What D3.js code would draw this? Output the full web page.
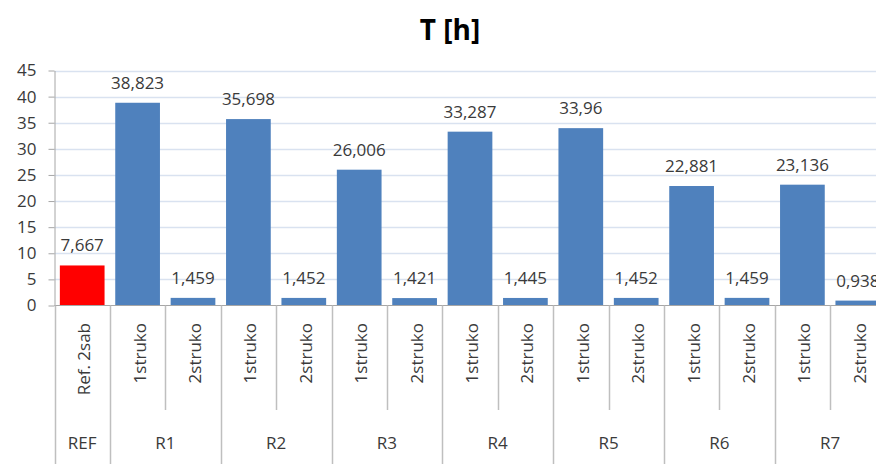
<!DOCTYPE html>
<html>
<head>
<meta charset="utf-8">
<script src="https://cdn.jsdelivr.net/npm/d3@7"></script>
<style>
  body { margin: 0; background: #fff; }
  svg { display: block; overflow: hidden; }
  text { font-family: "Open Sans", sans-serif; fill: #3a3a3a; }
</style>
</head>
<body>
<div id="chart"></div>
<script>
var w = 876,
    h = 464;

// data
var categories = ["Ref. 2sab", "1struko", "2struko", "1struko", "2struko", "1struko", "2struko",
                  "1struko", "2struko", "1struko", "2struko", "1struko", "2struko", "1struko", "2struko"];
var groups = ["REF", "R1", "R2", "R3", "R4", "R5", "R6", "R7"];
var groupSizes = [1, 2, 2, 2, 2, 2, 2, 2];
var values = [7.667, 38.823, 1.459, 35.698, 1.452, 26.006, 1.421, 33.287, 1.445, 33.96, 1.452, 22.881, 1.459, 23.136, 0.938];
var yTicks = [0, 5, 10, 15, 20, 25, 30, 35, 40, 45];

var left = 54.5, step = 55.4;
var y0 = 305.5, y45 = 70.5;
var fs = "17px";

var svg = d3.select("#chart")
    .append("svg")
    .attr("width", w)
    .attr("height", h);

var x = d3.scaleBand()
    .domain(d3.range(values.length))
    .range([left, left + step * values.length])
    .paddingInner(0.193)
    .paddingOuter(0.0965);

var y = d3.scaleLinear()
    .domain([0, 45])
    .range([y0, y45]);

// title
svg.append("text")
   .attr("x", 450)
   .attr("y", 40)
   .attr("text-anchor", "middle")
   .style("font-size", "28px")
   .style("font-weight", "bold")
   .style("fill", "#000")
   .text("T [h]");

// gridlines
svg.append("g")
   .selectAll("line")
   .data(yTicks.slice(1))
   .enter()
   .append("line")
   .attr("x1", left)
   .attr("x2", w)
   .attr("y1", function(d) { return Math.round(y(d)) + 0.5; })
   .attr("y2", function(d) { return Math.round(y(d)) + 0.5; })
   .attr("stroke", "#d9e2f0")
   .attr("stroke-width", 1.5);

// y axis
var yAxis = d3.axisLeft(y)
    .tickValues(yTicks)
    .tickSize(6)
    .tickPadding(12)
    .tickSizeOuter(0);

var gy = svg.append("g")
    .attr("transform", "translate(" + left + ",0)")
    .call(yAxis);
gy.selectAll("line, path").attr("stroke", "#a6a6a6");
gy.selectAll("text")
  .style("font-size", fs)
  .style("font-family", "\"Open Sans\", sans-serif")
  .style("fill", "#3a3a3a");

// bars
svg.append("g")
   .selectAll("rect")
   .data(values)
   .enter()
   .append("rect")
   .attr("x", function(d, i) { return x(i); })
   .attr("y", function(d) { return y(d); })
   .attr("width", x.bandwidth())
   .attr("height", function(d) { return y(0) - y(d); })
   .attr("fill", function(d, i) { return i === 0 ? "#ff0000" : "#4f81bd"; });

// value labels
svg.append("g")
   .selectAll("text")
   .data(values)
   .enter()
   .append("text")
   .attr("x", function(d, i) { return x(i) + x.bandwidth() / 2; })
   .attr("y", function(d) { return y(d) - 14; })
   .attr("text-anchor", "middle")
   .style("font-size", fs)
   .text(function(d) { return String(d).replace(".", ","); });

// x axis line
svg.append("line")
   .attr("x1", left).attr("x2", w)
   .attr("y1", y0).attr("y2", y0)
   .attr("stroke", "#a6a6a6");

// separators: group boundaries run to the bottom, inner ones stop short
var bounds = [];
var idx = 0;
groupSizes.forEach(function(n) {
  bounds.push({i: idx, group: true});
  for (var k = 1; k < n; k++) bounds.push({i: idx + k, group: false});
  idx += n;
});
bounds.push({i: idx, group: true});

svg.append("g")
   .selectAll("line")
   .data(bounds)
   .enter()
   .append("line")
   .attr("x1", function(d) { return Math.round(left + d.i * step) + 0.5; })
   .attr("x2", function(d) { return Math.round(left + d.i * step) + 0.5; })
   .attr("y1", y0)
   .attr("y2", function(d) { return d.group ? h : 410; })
   .attr("stroke", "#bfbfbf")
   .attr("stroke-width", 1.5);

// category labels (rotated)
svg.append("g")
   .selectAll("text")
   .data(categories)
   .enter()
   .append("text")
   .attr("transform", function(d, i) {
     return "translate(" + (x(i) + x.bandwidth() / 2 + 8) + "," + 323 + ") rotate(-90)";
   })
   .attr("text-anchor", "end")
   .style("font-size", fs)
   .text(function(d) { return d; });

// group labels
var start = 0;
var groupPos = groupSizes.map(function(n) {
  var c = left + (start + n / 2) * step;
  start += n;
  return c;
});

svg.append("g")
   .selectAll("text")
   .data(groups)
   .enter()
   .append("text")
   .attr("x", function(d, i) { return groupPos[i]; })
   .attr("y", 449)
   .attr("text-anchor", "middle")
   .style("font-size", fs)
   .text(function(d) { return d; });
</script>
</body>
</html>
